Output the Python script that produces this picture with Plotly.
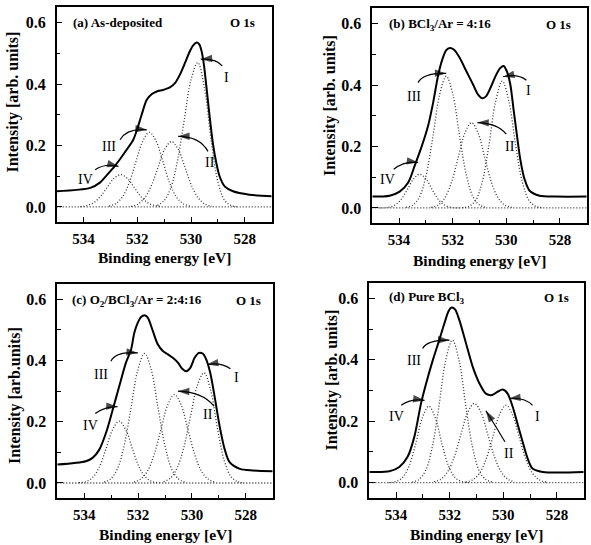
import plotly.graph_objects as go

W, H = 591, 545

# ------------------------------------------------------------------ data
# (a) As-deposited
a_env_x = [535.0, 533.75, 533.38, 533.01, 532.83, 532.64, 532.40, 532.15, 532.02, 531.84, 531.65, 531.47, 531.28,
           531.04, 530.79, 530.60, 530.42, 530.23, 530.05, 529.93, 529.80, 529.70, 529.62, 529.53, 529.43, 529.31,
           529.19, 529.06, 528.94, 528.75, 528.44, 527.83, 527.0]
a_env_y = [0.051, 0.062, 0.080, 0.116, 0.134, 0.156, 0.186, 0.219, 0.249, 0.300, 0.349, 0.367, 0.376, 0.381, 0.389,
           0.403, 0.430, 0.468, 0.506, 0.525, 0.535, 0.530, 0.511, 0.468, 0.392, 0.295, 0.208, 0.143, 0.100, 0.067,
           0.051, 0.040, 0.035]
a_I_x = [531.25, 531.0, 530.75, 530.5, 530.25, 530.0, 529.75, 529.5, 529.25, 529.0, 528.75, 528.5, 528.25]
a_I_y = [0.005, 0.021, 0.063, 0.153, 0.285, 0.415, 0.470, 0.386, 0.215, 0.081, 0.021, 0.004, 0.0]
a_II_x = [532.23, 531.98, 531.73, 531.48, 531.23, 530.98, 530.73, 530.48, 530.23, 529.98, 529.73, 529.48, 529.23]
a_II_y = [0.002, 0.009, 0.029, 0.069, 0.129, 0.188, 0.213, 0.188, 0.129, 0.069, 0.029, 0.009, 0.002]
a_III_x = [533.05, 532.8, 532.55, 532.3, 532.05, 531.8, 531.55, 531.3, 531.05, 530.8, 530.55, 530.3, 530.05]
a_III_y = [0.003, 0.011, 0.033, 0.079, 0.148, 0.214, 0.243, 0.214, 0.148, 0.079, 0.033, 0.011, 0.003]
a_IV_x = [534.12, 533.87, 533.62, 533.37, 533.12, 532.87, 532.62, 532.37, 532.12, 531.87, 531.62, 531.37, 531.12]
a_IV_y = [0.001, 0.005, 0.014, 0.034, 0.064, 0.093, 0.105, 0.093, 0.064, 0.034, 0.014, 0.005, 0.001]

# (b) BCl3/Ar = 4:16
b_env_x = [535.0, 534.35, 533.98, 533.66, 533.42, 533.17, 532.92, 532.73, 532.55, 532.39, 532.24, 532.11, 531.96,
           531.74, 531.49, 531.24, 531.06, 530.89, 530.75, 530.56, 530.37, 530.22, 530.10, 529.98, 529.85, 529.73,
           529.60, 529.48, 529.32, 529.13, 528.76, 528.14, 527.0]
b_env_y = [0.037, 0.040, 0.053, 0.083, 0.137, 0.197, 0.267, 0.343, 0.429, 0.483, 0.514, 0.521, 0.516, 0.489, 0.445,
           0.402, 0.370, 0.357, 0.364, 0.397, 0.435, 0.456, 0.462, 0.445, 0.402, 0.321, 0.235, 0.159, 0.094, 0.056,
           0.040, 0.037, 0.037]
b_I_x = [531.65, 531.4, 531.15, 530.9, 530.65, 530.4, 530.15, 529.9, 529.65, 529.4, 529.15, 528.9, 528.65]
b_I_y = [0.001, 0.005, 0.024, 0.084, 0.203, 0.346, 0.413, 0.346, 0.203, 0.084, 0.024, 0.005, 0.001]
b_II_x = [532.8, 532.55, 532.3, 532.05, 531.8, 531.55, 531.3, 531.05, 530.8, 530.55, 530.3, 530.05, 529.8]
b_II_y = [0.002, 0.009, 0.032, 0.082, 0.162, 0.243, 0.278, 0.243, 0.162, 0.082, 0.032, 0.009, 0.002]
b_III_x = [533.74, 533.49, 533.24, 532.99, 532.74, 532.49, 532.24, 531.99, 531.74, 531.49, 531.24, 530.99, 530.74]
b_III_y = [0.002, 0.009, 0.036, 0.107, 0.231, 0.368, 0.429, 0.368, 0.231, 0.107, 0.036, 0.009, 0.002]
b_IV_x = [534.73, 534.48, 534.23, 533.98, 533.73, 533.48, 533.23, 532.98, 532.73, 532.48, 532.23, 531.98, 531.73]
b_IV_y = [0.0, 0.001, 0.006, 0.022, 0.054, 0.092, 0.110, 0.092, 0.054, 0.022, 0.006, 0.001, 0.0]

# (c) O2/BCl3/Ar = 2:4:16
c_env_x = [535.0, 533.94, 533.69, 533.44, 533.19, 532.94, 532.70, 532.45, 532.26, 532.14, 532.01, 531.89, 531.76,
           531.64, 531.45, 531.27, 531.08, 530.89, 530.71, 530.52, 530.36, 530.21, 530.06, 529.90, 529.74, 529.59,
           529.47, 529.32, 529.16, 528.97, 528.78, 528.60, 528.22, 527.73, 527.0]
c_env_y = [0.060, 0.071, 0.082, 0.109, 0.164, 0.240, 0.316, 0.393, 0.436, 0.491, 0.524, 0.542, 0.548, 0.540, 0.496,
           0.453, 0.431, 0.420, 0.409, 0.393, 0.373, 0.365, 0.376, 0.409, 0.425, 0.422, 0.404, 0.360, 0.284, 0.185,
           0.109, 0.068, 0.046, 0.041, 0.038]
c_I_x = [531.05, 530.8, 530.55, 530.3, 530.05, 529.8, 529.55, 529.3, 529.05, 528.8, 528.55, 528.3, 528.05]
c_I_y = [0.004, 0.016, 0.049, 0.117, 0.219, 0.318, 0.360, 0.302, 0.177, 0.073, 0.021, 0.004, 0.001]
c_II_x = [532.15, 531.9, 531.65, 531.4, 531.15, 530.9, 530.65, 530.4, 530.15, 529.9, 529.65, 529.4, 529.15]
c_II_y = [0.003, 0.013, 0.039, 0.094, 0.175, 0.255, 0.289, 0.255, 0.175, 0.094, 0.039, 0.013, 0.003]
c_III_x = [533.26, 533.01, 532.76, 532.51, 532.26, 532.01, 531.76, 531.51, 531.26, 531.01, 530.76, 530.51, 530.26]
c_III_y = [0.003, 0.014, 0.048, 0.125, 0.246, 0.369, 0.423, 0.369, 0.246, 0.125, 0.048, 0.014, 0.003]
c_IV_x = [534.2, 533.95, 533.7, 533.45, 533.2, 532.95, 532.7, 532.45, 532.2, 531.95, 531.7, 531.45, 531.2]
c_IV_y = [0.001, 0.004, 0.017, 0.050, 0.109, 0.173, 0.202, 0.173, 0.109, 0.050, 0.017, 0.004, 0.001]

# (d) Pure BCl3
d_env_x = [535.0, 534.25, 533.88, 533.57, 533.32, 533.07, 532.88, 532.63, 532.39, 532.20, 532.04, 531.93, 531.80,
           531.64, 531.39, 531.14, 530.89, 530.65, 530.42, 530.21, 530.02, 529.84, 529.65, 529.47, 529.28, 529.09,
           528.91, 528.53, 527.0]
d_env_y = [0.035, 0.037, 0.051, 0.084, 0.149, 0.258, 0.323, 0.399, 0.464, 0.518, 0.559, 0.570, 0.564, 0.529, 0.453,
           0.377, 0.323, 0.290, 0.285, 0.296, 0.303, 0.290, 0.247, 0.192, 0.133, 0.078, 0.046, 0.035, 0.035]
d_I_x = [531.4, 531.15, 530.9, 530.65, 530.4, 530.15, 529.9, 529.65, 529.4, 529.15, 528.9, 528.65, 528.4]
d_I_y = [0.002, 0.009, 0.029, 0.074, 0.146, 0.220, 0.252, 0.220, 0.146, 0.074, 0.029, 0.009, 0.002]
d_II_x = [532.58, 532.33, 532.08, 531.83, 531.58, 531.33, 531.08, 530.83, 530.58, 530.33, 530.08, 529.83, 529.58]
d_II_y = [0.003, 0.011, 0.035, 0.084, 0.157, 0.228, 0.258, 0.228, 0.157, 0.084, 0.035, 0.011, 0.003]
d_III_x = [533.4, 533.15, 532.9, 532.65, 532.4, 532.15, 531.9, 531.65, 531.4, 531.15, 530.9, 530.65, 530.4]
d_III_y = [0.002, 0.010, 0.039, 0.116, 0.250, 0.398, 0.464, 0.398, 0.250, 0.116, 0.039, 0.010, 0.002]
d_IV_x = [534.28, 534.03, 533.78, 533.53, 533.28, 533.03, 532.78, 532.53, 532.28, 532.03, 531.78, 531.53, 531.28]
d_IV_y = [0.0, 0.003, 0.015, 0.051, 0.123, 0.209, 0.249, 0.209, 0.123, 0.051, 0.015, 0.003, 0.0]

base_x = [535.0, 527.0]
base_y = [0.0, 0.0]

x_tickvals = [534, 532, 530, 528]
y_tickvals = [0.0, 0.2, 0.4, 0.6]

panel_titles = ["(a) As-deposited", "(b) BCl<sub>3</sub>/Ar = 4:16",
                "(c) O<sub>2</sub>/BCl<sub>3</sub>/Ar = 2:4:16", "(d) Pure BCl<sub>3</sub>"]
core_level = "O 1s"
x_title = "Binding energy [eV]"
y_titles = ["Intensity [arb. units]", "Intensity [arb. units]", "Intensity [arb.units]", "Intensity [arb. units]"]

# arrow callouts: (text, label E, label I, start E, start I, ctrl E, ctrl I, tip E, tip I)
a_arrows = [("I", 528.69, 0.423, 528.84, 0.459, 529.06, 0.484, 529.64, 0.481),
            ("II", 529.31, 0.146, 529.37, 0.181, 529.68, 0.230, 530.48, 0.230),
            ("III", 533.07, 0.197, 532.64, 0.219, 532.40, 0.257, 531.65, 0.251),
            ("IV", 533.94, 0.089, 533.57, 0.121, 533.20, 0.143, 532.70, 0.132)]
b_arrows = [("I", 529.16, 0.384, 529.25, 0.416, 529.57, 0.438, 530.12, 0.427),
            ("II", 529.88, 0.199, 530.00, 0.240, 530.31, 0.276, 531.08, 0.278),
            ("III", 533.45, 0.364, 533.29, 0.408, 533.11, 0.440, 532.24, 0.438),
            ("IV", 534.45, 0.092, 534.20, 0.126, 533.79, 0.154, 533.29, 0.148)]
c_arrows = [("I", 528.35, 0.344, 528.57, 0.373, 528.91, 0.395, 529.44, 0.387),
            ("II", 529.40, 0.224, 529.18, 0.251, 529.59, 0.297, 530.52, 0.300),
            ("III", 533.38, 0.355, 533.01, 0.398, 532.82, 0.431, 532.01, 0.425),
            ("IV", 533.75, 0.188, 533.59, 0.227, 533.19, 0.251, 532.76, 0.249)]
d_arrows = [("I", 528.72, 0.214, 528.91, 0.252, 529.22, 0.279, 529.78, 0.274),
            ("II", 529.80, 0.095, 529.94, 0.133, 530.27, 0.182, 530.65, 0.234),
            ("III", 533.32, 0.399, 533.01, 0.437, 532.82, 0.466, 532.01, 0.464),
            ("IV", 534.00, 0.214, 533.81, 0.252, 533.44, 0.274, 532.94, 0.268)]

# ------------------------------------------------------------------ layout helpers
SERIF = "Liberation Serif, Times New Roman, serif"
# panel boxes in pixels: left, right, top, bottom
boxes = [(56.7, 271.7, 7.3, 222.3), (372.3, 586.7, 8.3, 223.3),
         (57.3, 272.7, 284.0, 498.3), (369.3, 583.7, 283.0, 498.0)]
# positions (px) of panel texts
title_pos = [(71, 22), (387, 25), (70, 300), (387, 297)]
core_pos = [(257, 22), (573, 25), (263, 300), (571, 297)]
xtitle_pos = [(164, 257), (479, 260), (165, 534.5), (476, 534.5)]
ytitle_pos = [(12.5, 102), (330, 106), (15, 396), (331.5, 380)]

DOT = "1px,2px"


def px(x):
    return x / W


def py(y):
    return 1 - y / H


panels = [
    (a_env_x, a_env_y, [(a_I_x, a_I_y), (a_II_x, a_II_y), (a_III_x, a_III_y), (a_IV_x, a_IV_y)], a_arrows),
    (b_env_x, b_env_y, [(b_I_x, b_I_y), (b_II_x, b_II_y), (b_III_x, b_III_y), (b_IV_x, b_IV_y)], b_arrows),
    (c_env_x, c_env_y, [(c_I_x, c_I_y), (c_II_x, c_II_y), (c_III_x, c_III_y), (c_IV_x, c_IV_y)], c_arrows),
    (d_env_x, d_env_y, [(d_I_x, d_I_y), (d_II_x, d_II_y), (d_III_x, d_III_y), (d_IV_x, d_IV_y)], d_arrows),
]

fig = go.Figure()
layout = dict(width=W, height=H, margin=dict(l=0, r=0, t=0, b=0), showlegend=False,
              paper_bgcolor="white", plot_bgcolor="white")
annotations = []
shapes = []

for i, (ex, ey, comps, arrows) in enumerate(panels):
    n = "" if i == 0 else str(i + 1)
    xa, ya = "x" + n, "y" + n
    l, r, t, b = boxes[i]
    layout["xaxis" + n] = dict(
        domain=[px(l), px(r)], anchor=ya, range=[535, 527], tickvals=x_tickvals,
        ticks="inside", ticklen=6, tickwidth=1.2, tickcolor="black",
        minor=dict(ticks="inside", ticklen=4, tickwidth=1.2, tickcolor="black", dtick=1, tick0=527),
        showline=True, linewidth=1.5, linecolor="black", mirror=True, showgrid=False, zeroline=False,
        tickfont=dict(family=SERIF, size=15, color="black", weight="bold"), ticklabelstandoff=2)
    layout["yaxis" + n] = dict(
        domain=[py(b), py(t)], anchor=xa, range=[-0.05, 0.65], tickvals=y_tickvals, tickformat=".1f",
        ticks="inside", ticklen=6, tickwidth=1.2, tickcolor="black",
        minor=dict(ticks="inside", ticklen=4, tickwidth=1.2, tickcolor="black", dtick=0.1, tick0=0),
        showline=True, linewidth=1.5, linecolor="black", mirror=True, showgrid=False, zeroline=False,
        tickfont=dict(family=SERIF, size=16, color="black", weight="bold"), ticklabelstandoff=6)

    fig.add_trace(go.Scatter(x=base_x, y=base_y, mode="lines", xaxis=xa, yaxis=ya,
                             line=dict(color="#333", width=1.3, dash=DOT)))
    for cx, cy in comps:
        fig.add_trace(go.Scatter(x=cx, y=cy, mode="lines", xaxis=xa, yaxis=ya,
                                 line=dict(color="#333", width=1.3, dash=DOT, shape="spline", smoothing=1.0)))
    fig.add_trace(go.Scatter(x=ex, y=ey, mode="lines", xaxis=xa, yaxis=ya,
                             line=dict(color="black", width=2, shape="spline", smoothing=0.8)))

    for (txt, lx, ly, sx, sy, qx, qy, tx, ty) in arrows:
        shapes.append(dict(type="path", xref=xa, yref=ya,
                           path=f"M {sx},{sy} Q {qx},{qy} {tx},{ty}",
                           line=dict(color="black", width=1.2)))
        # arrowhead: marker oriented along the final tangent of the curve
        fig.add_trace(go.Scatter(x=[tx + 0.2 * (qx - tx), tx], y=[ty + 0.2 * (qy - ty), ty], mode="markers",
                                 xaxis=xa, yaxis=ya, hoverinfo="skip",
                                 marker=dict(symbol="arrow", angleref="previous", size=[0, 12], color="black",
                                             line=dict(width=0))))
        annotations.append(dict(x=lx, y=ly, xref=xa, yref=ya, text=txt, showarrow=False,
                                font=dict(family=SERIF, size=14, color="black")))

    annotations.append(dict(x=px(title_pos[i][0]), y=py(title_pos[i][1]), xref="paper", yref="paper",
                            text=panel_titles[i], showarrow=False, xanchor="left", yanchor="middle",
                            font=dict(family=SERIF, size=13, color="black", weight="bold")))
    annotations.append(dict(x=px(core_pos[i][0]), y=py(core_pos[i][1]), xref="paper", yref="paper",
                            text=core_level, showarrow=False, xanchor="right", yanchor="middle",
                            font=dict(family=SERIF, size=13, color="black", weight="bold")))
    annotations.append(dict(x=px(xtitle_pos[i][0]), y=py(xtitle_pos[i][1]), xref="paper", yref="paper",
                            text=x_title, showarrow=False, xanchor="center", yanchor="middle",
                            font=dict(family=SERIF, size=15.5, color="black", weight="bold")))
    annotations.append(dict(x=px(ytitle_pos[i][0]), y=py(ytitle_pos[i][1]), xref="paper", yref="paper",
                            text=y_titles[i], showarrow=False, xanchor="center", yanchor="middle", textangle=-90,
                            font=dict(family=SERIF, size=16, color="black", weight="bold")))

layout["annotations"] = annotations
layout["shapes"] = shapes
fig.update_layout(**layout)
fig.write_html("out.html")
